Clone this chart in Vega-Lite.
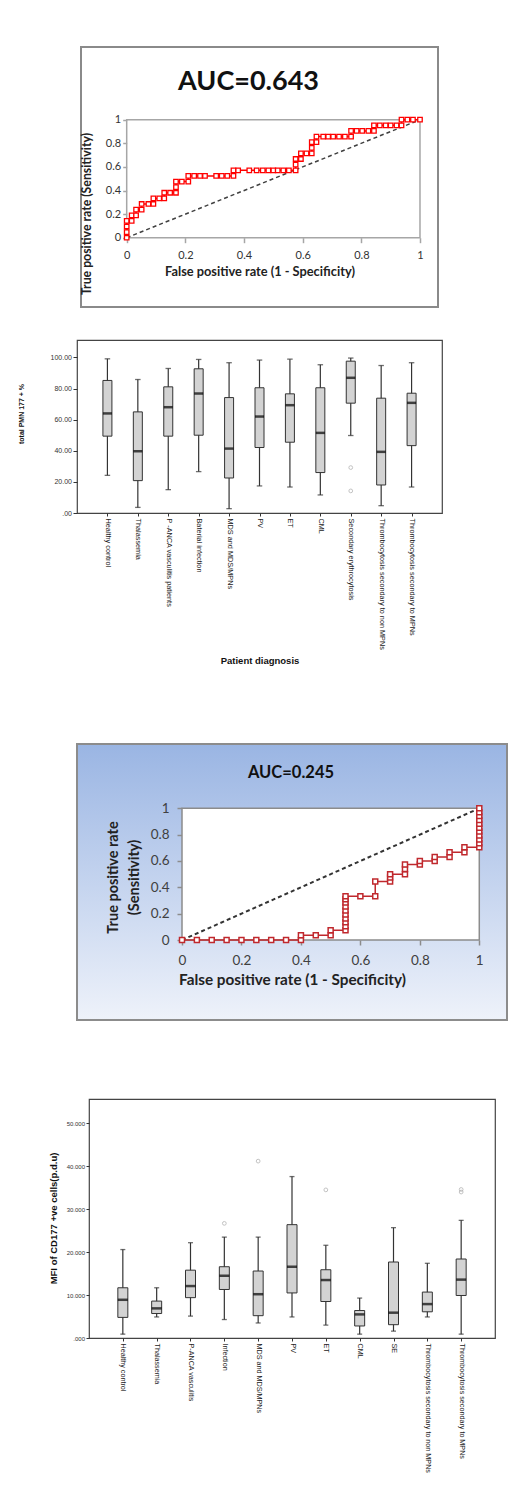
{
  "$schema": "https://vega.github.io/schema/vega-lite/v6.json",
  "background": "white",
  "padding": {"left": 16, "top": 46, "right": 5, "bottom": 5},
  "spacing": 77,
  "config": {"font": "Liberation Sans", "axis": {"grid": false, "labelFlush": false, "labelOverlap": false}},
  "datasets": {
    "diag": [{"x": 0, "y": 0, "x2": 1, "y2": 1}],
    "roc1": [
      {"i": 1, "x": 0, "y": 0}, {"i": 2, "x": 0, "y": 0.048}, {"i": 3, "x": 0, "y": 0.095}, {"i": 4, "x": 0, "y": 0.143},
      {"i": 5, "x": 0.017, "y": 0.143}, {"i": 6, "x": 0.017, "y": 0.19}, {"i": 7, "x": 0.032, "y": 0.19}, {"i": 8, "x": 0.032, "y": 0.238},
      {"i": 9, "x": 0.051, "y": 0.238}, {"i": 10, "x": 0.051, "y": 0.286}, {"i": 11, "x": 0.074, "y": 0.286}, {"i": 12, "x": 0.091, "y": 0.286},
      {"i": 13, "x": 0.091, "y": 0.333}, {"i": 14, "x": 0.111, "y": 0.333}, {"i": 15, "x": 0.128, "y": 0.333}, {"i": 16, "x": 0.128, "y": 0.381},
      {"i": 17, "x": 0.148, "y": 0.381}, {"i": 18, "x": 0.168, "y": 0.381}, {"i": 19, "x": 0.168, "y": 0.429}, {"i": 20, "x": 0.168, "y": 0.476},
      {"i": 21, "x": 0.188, "y": 0.476}, {"i": 22, "x": 0.21, "y": 0.476}, {"i": 23, "x": 0.21, "y": 0.524}, {"i": 24, "x": 0.23, "y": 0.524},
      {"i": 25, "x": 0.25, "y": 0.524}, {"i": 26, "x": 0.267, "y": 0.524}, {"i": 27, "x": 0.305, "y": 0.524}, {"i": 28, "x": 0.324, "y": 0.524},
      {"i": 29, "x": 0.343, "y": 0.524}, {"i": 30, "x": 0.364, "y": 0.524}, {"i": 31, "x": 0.364, "y": 0.571}, {"i": 32, "x": 0.38, "y": 0.571},
      {"i": 33, "x": 0.418, "y": 0.571}, {"i": 34, "x": 0.443, "y": 0.571}, {"i": 35, "x": 0.464, "y": 0.571}, {"i": 36, "x": 0.483, "y": 0.571},
      {"i": 37, "x": 0.5, "y": 0.571}, {"i": 38, "x": 0.515, "y": 0.571}, {"i": 39, "x": 0.534, "y": 0.571}, {"i": 40, "x": 0.553, "y": 0.571},
      {"i": 41, "x": 0.576, "y": 0.571}, {"i": 42, "x": 0.576, "y": 0.619}, {"i": 43, "x": 0.576, "y": 0.667}, {"i": 44, "x": 0.594, "y": 0.667},
      {"i": 45, "x": 0.594, "y": 0.714}, {"i": 46, "x": 0.613, "y": 0.714}, {"i": 47, "x": 0.631, "y": 0.714}, {"i": 48, "x": 0.631, "y": 0.762},
      {"i": 49, "x": 0.631, "y": 0.81}, {"i": 50, "x": 0.647, "y": 0.81}, {"i": 51, "x": 0.647, "y": 0.857}, {"i": 52, "x": 0.67, "y": 0.857},
      {"i": 53, "x": 0.687, "y": 0.857}, {"i": 54, "x": 0.704, "y": 0.857}, {"i": 55, "x": 0.724, "y": 0.857}, {"i": 56, "x": 0.744, "y": 0.857},
      {"i": 57, "x": 0.765, "y": 0.857}, {"i": 58, "x": 0.765, "y": 0.905}, {"i": 59, "x": 0.784, "y": 0.905}, {"i": 60, "x": 0.803, "y": 0.905},
      {"i": 61, "x": 0.824, "y": 0.905}, {"i": 62, "x": 0.843, "y": 0.905}, {"i": 63, "x": 0.843, "y": 0.952}, {"i": 64, "x": 0.863, "y": 0.952},
      {"i": 65, "x": 0.883, "y": 0.952}, {"i": 66, "x": 0.9, "y": 0.952}, {"i": 67, "x": 0.92, "y": 0.952}, {"i": 68, "x": 0.937, "y": 0.952},
      {"i": 69, "x": 0.937, "y": 1}, {"i": 70, "x": 0.957, "y": 1}, {"i": 71, "x": 0.976, "y": 1}, {"i": 72, "x": 1, "y": 1}
    ],
    "roc2": [
      {"i": 1, "x": 0, "y": 0}, {"i": 2, "x": 0.05, "y": 0}, {"i": 3, "x": 0.1, "y": 0}, {"i": 4, "x": 0.15, "y": 0},
      {"i": 5, "x": 0.2, "y": 0}, {"i": 6, "x": 0.25, "y": 0}, {"i": 7, "x": 0.3, "y": 0}, {"i": 8, "x": 0.35, "y": 0},
      {"i": 9, "x": 0.4, "y": 0}, {"i": 10, "x": 0.4, "y": 0.037}, {"i": 11, "x": 0.45, "y": 0.037}, {"i": 12, "x": 0.5, "y": 0.037},
      {"i": 13, "x": 0.5, "y": 0.074}, {"i": 14, "x": 0.55, "y": 0.074}, {"i": 15, "x": 0.55, "y": 0.104}, {"i": 16, "x": 0.55, "y": 0.134},
      {"i": 17, "x": 0.55, "y": 0.164}, {"i": 18, "x": 0.55, "y": 0.194}, {"i": 19, "x": 0.55, "y": 0.224}, {"i": 20, "x": 0.55, "y": 0.254},
      {"i": 21, "x": 0.55, "y": 0.284}, {"i": 22, "x": 0.55, "y": 0.31}, {"i": 23, "x": 0.55, "y": 0.333}, {"i": 24, "x": 0.6, "y": 0.333},
      {"i": 25, "x": 0.65, "y": 0.333}, {"i": 26, "x": 0.65, "y": 0.444}, {"i": 27, "x": 0.7, "y": 0.444}, {"i": 28, "x": 0.7, "y": 0.475},
      {"i": 29, "x": 0.7, "y": 0.5}, {"i": 30, "x": 0.75, "y": 0.5}, {"i": 31, "x": 0.75, "y": 0.54}, {"i": 32, "x": 0.75, "y": 0.574},
      {"i": 33, "x": 0.8, "y": 0.574}, {"i": 34, "x": 0.8, "y": 0.6}, {"i": 35, "x": 0.85, "y": 0.6}, {"i": 36, "x": 0.85, "y": 0.63},
      {"i": 37, "x": 0.9, "y": 0.63}, {"i": 38, "x": 0.9, "y": 0.667}, {"i": 39, "x": 0.95, "y": 0.667}, {"i": 40, "x": 0.95, "y": 0.704},
      {"i": 41, "x": 1, "y": 0.704}, {"i": 42, "x": 1, "y": 0.734}, {"i": 43, "x": 1, "y": 0.764}, {"i": 44, "x": 1, "y": 0.793},
      {"i": 45, "x": 1, "y": 0.823}, {"i": 46, "x": 1, "y": 0.852}, {"i": 47, "x": 1, "y": 0.882}, {"i": 48, "x": 1, "y": 0.911},
      {"i": 49, "x": 1, "y": 0.941}, {"i": 50, "x": 1, "y": 0.97}, {"i": 51, "x": 1, "y": 1}
    ],
    "box1": [
      {"d": "Healthy control", "lo": 24.2, "q1": 49.4, "med": 64.0, "q3": 85.2, "hi": 99.1},
      {"d": "Thalassemia", "lo": 3.6, "q1": 20.8, "med": 39.7, "q3": 65.0, "hi": 85.8},
      {"d": "P -ANCA vasculitis patients", "lo": 15.0, "q1": 49.4, "med": 68.0, "q3": 81.1, "hi": 92.9},
      {"d": "Baterial infection", "lo": 26.6, "q1": 50.0, "med": 76.8, "q3": 92.7, "hi": 98.7},
      {"d": "MDS and MDS/MPNs", "lo": 2.8, "q1": 22.5, "med": 41.4, "q3": 74.2, "hi": 96.6},
      {"d": "PV", "lo": 17.4, "q1": 42.1, "med": 62.0, "q3": 80.5, "hi": 98.3},
      {"d": "ET", "lo": 16.7, "q1": 45.5, "med": 69.3, "q3": 76.6, "hi": 98.9},
      {"d": "CML", "lo": 11.6, "q1": 26.0, "med": 51.5, "q3": 80.5, "hi": 95.3},
      {"d": "Secondary erythrocytosis", "lo": 49.8, "q1": 70.6, "med": 86.9, "q3": 97.6, "hi": 99.6},
      {"d": "Thrombocytosis secondary to non MPNs", "lo": 4.7, "q1": 18.0, "med": 39.3, "q3": 73.8, "hi": 94.8},
      {"d": "Thrombocytosis secondary to MPNs", "lo": 16.7, "q1": 43.3, "med": 70.8, "q3": 77.0, "hi": 96.6}
    ],
    "out1": [
      {"d": "Secondary erythrocytosis", "v": 29.2},
      {"d": "Secondary erythrocytosis", "v": 14.2}
    ],
    "box2": [
      {"d": "Healthy control", "lo": 0.9, "q1": 4.8, "med": 8.9, "q3": 11.7, "hi": 20.6},
      {"d": "Thalassemia", "lo": 4.9, "q1": 5.7, "med": 6.9, "q3": 8.6, "hi": 11.7},
      {"d": "P-ANCA vasculitis", "lo": 5.1, "q1": 9.4, "med": 12.1, "q3": 15.8, "hi": 22.2},
      {"d": "Infection", "lo": 4.3, "q1": 11.3, "med": 14.5, "q3": 16.6, "hi": 23.5},
      {"d": "MDS and MDS/MPNs", "lo": 3.5, "q1": 5.2, "med": 10.2, "q3": 15.6, "hi": 23.5},
      {"d": "PV", "lo": 4.9, "q1": 10.5, "med": 16.6, "q3": 26.4, "hi": 37.6},
      {"d": "ET", "lo": 3.0, "q1": 8.5, "med": 13.5, "q3": 15.9, "hi": 21.6},
      {"d": "CML", "lo": 0.9, "q1": 2.8, "med": 5.5, "q3": 6.4, "hi": 9.3},
      {"d": "SE", "lo": 1.6, "q1": 3.1, "med": 5.9, "q3": 17.7, "hi": 25.7},
      {"d": "Thrombocytosis secondary to non MPNs", "lo": 4.9, "q1": 6.1, "med": 7.9, "q3": 10.7, "hi": 17.4},
      {"d": "Thrombocytosis secondary to MPNs", "lo": 0.9, "q1": 9.9, "med": 13.6, "q3": 18.4, "hi": 27.4}
    ],
    "out2": [
      {"d": "Infection", "v": 26.7},
      {"d": "MDS and MDS/MPNs", "v": 41.2},
      {"d": "ET", "v": 34.5},
      {"d": "Thrombocytosis secondary to MPNs", "v": 34.6},
      {"d": "Thrombocytosis secondary to MPNs", "v": 34.0}
    ]
  },
  "vconcat": [
    {
      "bounds": "flush",
      "center": true,
      "spacing": 33,
      "vconcat": [
        {
          "width": 357,
          "height": 260,
          "view": {"stroke": "#8a8a8a", "strokeWidth": 2, "fill": "white"},
          "title": {"text": "AUC=0.643", "font": "Lato", "fontSize": 27, "fontWeight": "bold", "color": "#111111", "anchor": "middle", "frame": "group", "baseline": "alphabetic", "offset": -70, "dx": -11},
          "encoding": {
            "x": {"field": "x", "type": "quantitative",
              "scale": {"domain": [-0.1558, 1.0614], "nice": false, "zero": false},
              "axis": {"orient": "bottom", "offset": -69.3, "values": [0, 0.2, 0.4, 0.6, 0.8, 1], "format": "~g", "domain": false, "ticks": true, "tickSize": 5, "tickColor": "#a6a6a6", "tickWidth": 1.5, "labelFont": "Lato", "labelFontSize": 11, "labelColor": "#333333", "labelPadding": 7, "title": "False positive rate (1 - Specificity)", "titleFont": "Lato", "titleFontSize": 12.8, "titleFontWeight": "bold", "titleColor": "#222222", "titlePadding": 5}},
            "y": {"field": "y", "type": "quantitative",
              "scale": {"domain": [-0.587, 1.616], "nice": false, "zero": false},
              "axis": {"orient": "left", "offset": -45.7, "values": [0, 0.2, 0.4, 0.6, 0.8, 1], "format": "~g", "domain": false, "ticks": true, "tickSize": 4, "tickColor": "#a6a6a6", "tickWidth": 1.5, "labelFont": "Lato", "labelFontSize": 11, "labelColor": "#333333", "labelPadding": 2, "title": "True positive rate (Sensitivity)", "titleFont": "Lato", "titleFontSize": 12.3, "titleFontWeight": "bold", "titleColor": "#222222", "titleBaseline": "middle", "titleX": -40.5, "titleY": 166.5}}
          },
          "layer": [
            {"data": {"name": "diag"}, "mark": {"type": "rect", "fill": "transparent", "stroke": "#a6a6a6", "strokeWidth": 1.5}, "encoding": {"x2": {"field": "x2"}, "y2": {"field": "y2"}}},
            {"data": {"name": "diag"}, "mark": {"type": "rule", "color": "#404040", "strokeWidth": 1.5, "strokeDash": [4, 3]}, "encoding": {"x2": {"field": "x2"}, "y2": {"field": "y2"}}},
            {"data": {"name": "roc1"}, "mark": {"type": "line", "color": "#ff0000", "strokeWidth": 1.5}, "encoding": {"order": {"field": "i", "type": "quantitative"}}},
            {"data": {"name": "roc1"}, "mark": {"type": "point", "shape": "square", "filled": true, "fill": "white", "stroke": "#ff0000", "strokeWidth": 1.3, "size": 20, "opacity": 1}}
          ]
        },
        {
          "width": 365,
          "height": 173,
          "view": {"stroke": "#444444", "strokeWidth": 1.2, "fill": "white"},
          "resolve": {"axis": {"y": "independent"}},
          "encoding": {
            "x": {"field": "d", "type": "ordinal",
              "scale": {"type": "point", "padding": 1.09, "domain": ["Healthy control", "Thalassemia", "P -ANCA vasculitis patients", "Baterial infection", "MDS and MDS/MPNs", "PV", "ET", "CML", "Secondary erythrocytosis", "Thrombocytosis secondary to non MPNs", "Thrombocytosis secondary to MPNs"]},
              "axis": {"orient": "bottom", "domain": false, "ticks": true, "tickSize": 3, "tickColor": "#333333", "labelAngle": 90, "labelAlign": "left", "labelBaseline": "middle", "labelPadding": 2, "labelFont": "Liberation Sans", "labelFontSize": 7.3, "labelColor": "#222222", "labelLimit": 300, "labelOverlap": false, "title": "Patient diagnosis", "titleFont": "Liberation Sans", "titleFontSize": 9.5, "titleFontWeight": "bold", "titleColor": "#111111", "titlePadding": 6}}
          },
          "layer": [
            {"data": {"name": "box1"}, "mark": {"type": "rule", "color": "#333333", "strokeWidth": 1.2},
              "encoding": {"y": {"field": "lo", "type": "quantitative", "title": "total PMN 177 + %", "scale": {"domain": [0, 111.2], "nice": false, "zero": false},
                "axis": {"values": [0, 20, 40, 60, 80, 100], "labelExpr": "datum.value == 0 ? '.00' : format(datum.value, '.2f')", "labelOverlap": false, "domain": false, "ticks": true, "tickSize": 4, "tickColor": "#333333", "labelPadding": 1.5, "labelFont": "Liberation Sans", "labelFontSize": 7, "labelColor": "#333333", "titleFont": "Liberation Sans", "titleFontSize": 7, "titleFontWeight": "bold", "titleColor": "#111111", "titleBaseline": "middle", "titleX": -56, "titleY": 73.5}},
                "y2": {"field": "hi"}}},
            {"data": {"name": "box1"}, "mark": {"type": "tick", "color": "#333333", "size": 5.5, "thickness": 1.3}, "encoding": {"y": {"field": "lo", "type": "quantitative", "axis": null}}},
            {"data": {"name": "box1"}, "mark": {"type": "tick", "color": "#333333", "size": 5.5, "thickness": 1.3}, "encoding": {"y": {"field": "hi", "type": "quantitative", "axis": null}}},
            {"data": {"name": "box1"}, "mark": {"type": "bar", "size": 9, "fill": "#d3d3d3", "stroke": "#333333", "strokeWidth": 1}, "encoding": {"y": {"field": "q1", "type": "quantitative", "axis": null}, "y2": {"field": "q3"}}},
            {"data": {"name": "box1"}, "mark": {"type": "tick", "color": "#000000", "size": 9, "thickness": 2.5}, "encoding": {"y": {"field": "med", "type": "quantitative", "axis": null}}},
            {"data": {"name": "out1"}, "mark": {"type": "point", "shape": "circle", "filled": false, "color": "#aaaaaa", "size": 14, "strokeWidth": 1}, "encoding": {"y": {"field": "v", "type": "quantitative", "axis": null}}}
          ]
        }
      ]
    },
    {
      "bounds": "flush",
      "center": true,
      "spacing": 79,
      "vconcat": [
        {
          "width": 430,
          "height": 276,
          "view": {"stroke": "#8c8c8c", "strokeWidth": 2, "fill": {"gradient": "linear", "x1": 0, "y1": 0, "x2": 0, "y2": 1, "stops": [{"offset": 0, "color": "#9ab5e3"}, {"offset": 1, "color": "#eef2fa"}]}},
          "title": {"text": "AUC=0.245", "font": "Lato", "fontSize": 16.5, "fontWeight": "bold", "color": "#111111", "anchor": "middle", "frame": "group", "baseline": "alphabetic", "offset": -50, "dx": -1},
          "encoding": {
            "x": {"field": "x", "type": "quantitative",
              "scale": {"domain": [-0.3532, 1.0932], "nice": false, "zero": false},
              "axis": {"orient": "bottom", "offset": -80, "values": [0, 0.2, 0.4, 0.6, 0.8, 1], "format": "~g", "domain": false, "ticks": true, "tickSize": 5, "tickColor": "#8c8c8c", "tickWidth": 1.5, "labelFont": "Lato", "labelFontSize": 13.5, "labelColor": "#404040", "labelPadding": 8, "title": "False positive rate (1 - Specificity)", "titleFont": "Lato", "titleFontSize": 15.3, "titleFontWeight": "bold", "titleColor": "#222222", "titlePadding": 6}},
            "y": {"field": "y", "type": "quantitative",
              "scale": {"domain": [-0.6074, 1.4882], "nice": false, "zero": false},
              "axis": {"orient": "left", "offset": -105, "values": [0, 0.2, 0.4, 0.6, 0.8, 1], "format": "~g", "domain": false, "ticks": true, "tickSize": 5, "tickColor": "#8c8c8c", "tickWidth": 1.5, "labelFont": "Lato", "labelFontSize": 13.5, "labelColor": "#404040", "labelPadding": 8, "title": ["True positive rate", "(Sensitivity)"], "titleFont": "Lato", "titleFontSize": 14.5, "titleFontWeight": "bold", "titleColor": "#222222", "titleLineHeight": 21, "titleX": -62, "titleY": 133}}
          },
          "layer": [
            {"data": {"name": "diag"}, "mark": {"type": "rect", "fill": "white", "stroke": "#8c8c8c", "strokeWidth": 1.5}, "encoding": {"x2": {"field": "x2"}, "y2": {"field": "y2"}}},
            {"data": {"name": "diag"}, "mark": {"type": "rule", "color": "#333333", "strokeWidth": 2, "strokeDash": [4, 3]}, "encoding": {"x2": {"field": "x2"}, "y2": {"field": "y2"}}},
            {"data": {"name": "roc2"}, "mark": {"type": "line", "color": "#c0282d", "strokeWidth": 1.5}, "encoding": {"order": {"field": "i", "type": "quantitative"}}},
            {"data": {"name": "roc2"}, "mark": {"type": "point", "shape": "square", "filled": true, "fill": "white", "stroke": "#c0282d", "strokeWidth": 1.5, "size": 25, "opacity": 1}}
          ]
        },
        {
          "width": 406,
          "height": 239,
          "view": {"stroke": "#444444", "strokeWidth": 1.2, "fill": "white"},
          "title": {"text": "MFI of CD177 +ve cells(p.d.u)", "orient": "left", "anchor": "middle", "frame": "group", "font": "Liberation Sans", "fontSize": 9.5, "fontWeight": "bold", "color": "#111111", "offset": 8},
          "resolve": {"axis": {"y": "independent"}},
          "encoding": {
            "x": {"field": "d", "type": "ordinal",
              "scale": {"type": "point", "padding": 1.09, "domain": ["Healthy control", "Thalassemia", "P-ANCA vasculitis", "Infection", "MDS and MDS/MPNs", "PV", "ET", "CML", "SE", "Thrombocytosis secondary to non MPNs", "Thrombocytosis secondary to MPNs"]},
              "axis": {"orient": "bottom", "domain": false, "ticks": true, "tickSize": 3, "tickColor": "#333333", "labelAngle": 90, "labelAlign": "left", "labelBaseline": "middle", "labelPadding": 2, "labelFont": "Liberation Sans", "labelFontSize": 7.2, "labelColor": "#222222", "labelLimit": 300, "labelOverlap": false, "title": null}}
          },
          "layer": [
            {"data": {"name": "box2"}, "mark": {"type": "rule", "color": "#333333", "strokeWidth": 1.2},
              "encoding": {"y": {"field": "lo", "type": "quantitative", "title": null, "scale": {"domain": [0, 55.67], "nice": false, "zero": false},
                "axis": {"values": [0, 10, 20, 30, 40, 50], "labelExpr": "datum.value == 0 ? '.000' : format(datum.value, '.3f')", "labelOverlap": false, "domain": false, "ticks": true, "tickSize": 3, "tickColor": "#333333", "labelPadding": 1.5, "labelFont": "Liberation Sans", "labelFontSize": 6, "labelColor": "#333333", "title": null}},
                "y2": {"field": "hi"}}},
            {"data": {"name": "box2"}, "mark": {"type": "tick", "color": "#333333", "size": 5, "thickness": 1.3}, "encoding": {"y": {"field": "lo", "type": "quantitative", "axis": null}}},
            {"data": {"name": "box2"}, "mark": {"type": "tick", "color": "#333333", "size": 5, "thickness": 1.3}, "encoding": {"y": {"field": "hi", "type": "quantitative", "axis": null}}},
            {"data": {"name": "box2"}, "mark": {"type": "bar", "size": 10, "fill": "#d3d3d3", "stroke": "#333333", "strokeWidth": 1}, "encoding": {"y": {"field": "q1", "type": "quantitative", "axis": null}, "y2": {"field": "q3"}}},
            {"data": {"name": "box2"}, "mark": {"type": "tick", "color": "#000000", "size": 10, "thickness": 2.5}, "encoding": {"y": {"field": "med", "type": "quantitative", "axis": null}}},
            {"data": {"name": "out2"}, "mark": {"type": "point", "shape": "circle", "filled": false, "color": "#aaaaaa", "size": 14, "strokeWidth": 1}, "encoding": {"y": {"field": "v", "type": "quantitative", "axis": null}}}
          ]
        }
      ]
    }
  ]
}
